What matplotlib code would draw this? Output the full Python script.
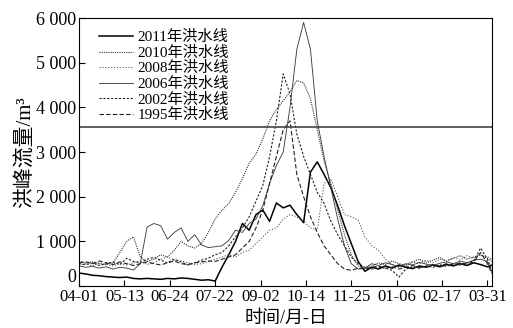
import numpy as np
from matplotlib import pyplot as plt

plt.rcParams['font.family'] = ['Liberation Serif', 'Noto Sans CJK SC']

# x 坐标：以刻度间隔为单位，每 0.15 取一个点，末点 9.1
x = list(np.arange(61) * 0.15) + [9.1]
tick_labels = ["04-01", "05-13", "06-24", "07-22", "09-02",
               "10-14", "11-25", "01-06", "02-17", "03-31"]
warn_level = 3560

flow_2011 = [290, 270, 240, 230, 210, 200, 190, 200, 170, 160,
             170, 160, 150, 170, 160, 180, 170, 150, 130, 140,
             110, 420, 700, 1000, 1400, 1250, 1600, 1700, 1450, 1860,
             1750, 1810, 1600, 1420, 2550, 2780, 2500, 2200, 1800, 1350,
             950, 550, 330,
             420, 380, 450, 400, 470, 420, 390, 450, 420, 470,
             430, 480, 450, 500, 460, 520, 480, 430, 470]
flow_2010 = [560, 520, 540, 500, 480, 520, 750, 1000, 1100, 650,
             550, 600, 700, 650, 800, 1000, 900, 850, 950, 1200,
             1500, 1700, 1850, 2100, 2400, 2750, 2950, 3300, 3700, 3950,
             4150, 4350, 4600, 4550, 4200, 3500, 2800, 2300, 1700, 1150,
             700, 450, 400,
             450, 520, 480, 560, 500, 460, 540, 600, 520, 580,
             640, 560, 620, 680, 600, 650, 700, 620, 550]
flow_2008 = [470, 500, 450, 520, 480, 450, 500, 470, 520, 560,
             480, 520, 600, 650, 580, 560, 520, 480, 500, 550,
             600, 650, 700, 650, 750, 800, 950, 1100, 1250, 1300,
             1500, 1600, 1550, 1450, 1300, 1250, 2300, 2400, 2000, 1600,
             1550, 1480, 1100, 900, 800, 600, 480, 420,
             480, 540, 500, 580, 520, 600, 560, 640, 580, 680,
             620, 700, 650, 600]
flow_2006 = [450, 420, 440, 400, 430, 380, 420, 400, 360, 500,
             1320, 1400, 1350, 1050, 1200, 1300, 1000, 1150, 920, 860,
             880, 900, 1020, 1250, 1200, 1400, 1500, 1800, 2300, 2700,
             3000, 4000, 5300, 5900, 5300, 3700, 2900, 2200, 1500, 900,
             500, 380, 400,
             500, 460, 520, 480, 430, 500, 470, 530, 490, 460,
             510, 540, 500, 560, 520, 580, 600, 550, 300]
flow_2002 = [500, 480, 520, 460, 500, 540, 480, 620, 550, 520,
             600, 640, 580, 520, 600, 540, 470, 520, 580, 620,
             700, 750, 900, 1100, 1300, 1550, 1900, 2250, 2900, 3700,
             4750, 4300, 3400, 2900, 2500, 2100, 1850, 1450, 1150, 900,
             650, 500, 420,
             380, 420, 400, 350, 200, 380, 430, 400, 450, 420,
             480, 440, 500, 470, 520, 560, 850, 600, 350]
flow_1995 = [520, 540, 500, 560, 520, 480, 540, 500, 460, 500,
             540, 500, 470, 520, 560, 500, 480, 520, 540, 560,
             550, 600, 650, 700, 850, 1000, 1300, 1700, 2300, 2900,
             3500, 3700, 2500, 2000, 1550, 1200, 900, 700, 500, 380,
             350,
             400, 380, 420, 450, 400, 430, 380, 420, 460, 410,
             440, 480, 450, 500, 470, 520, 490, 540, 750, 500, 280]

fig = plt.figure(figsize=(5.13, 3.28), dpi=100)
ax = fig.add_axes([0.154, 0.128, 0.805, 0.817])

ax.plot(x, flow_2011, color='black', lw=1.1, ls='-', label='2011年洪水线')
ax.plot(x, flow_2010, color='#333333', lw=0.8, ls=(0, (1, 1)), label='2010年洪水线')
ax.plot(x, flow_2008, color='#555555', lw=0.8, ls=(0, (1, 1.6)), label='2008年洪水线')
ax.plot(x, flow_2006, color='#333333', lw=0.6, ls='-', label='2006年洪水线')
ax.plot(x, flow_2002, color='#222222', lw=0.8, ls=(0, (2, 1.5)), label='2002年洪水线')
ax.plot(x, flow_1995, color='#222222', lw=0.8, ls=(0, (4, 2)), label='1995年洪水线')
ax.axhline(warn_level, color='#444444', lw=1.2)

ax.set_xlim(0, 9.1)
ax.set_ylim(0, 6000)
ax.set_xticks(range(len(tick_labels)))
ax.set_xticklabels(tick_labels)
ax.set_yticks([0, 1000, 2000, 3000, 4000, 5000, 6000])
ax.set_yticklabels(["0", "1 000", "2 000", "3 000", "4 000", "5 000", "6 000"])
ax.tick_params(direction='in', length=4, pad=2)
ax.tick_params(axis='y', labelsize=13)
ax.tick_params(axis='x', labelsize=12)
# 纵轴的 0 底部对齐，与横轴首个日期错开
ax.get_yticklabels()[0].set_verticalalignment('bottom')
ax.set_xlabel("时间/月-日", fontsize=13, labelpad=4)
ax.set_ylabel("洪峰流量/m³", fontsize=15, labelpad=0)

ax.legend(loc='upper left', frameon=False, fontsize=11, handlelength=2.2,
          labelspacing=0.1, borderaxespad=0.4, handletextpad=0.3,
          bbox_to_anchor=(0.02, 1.0))

plt.savefig("out.png", dpi=100)
